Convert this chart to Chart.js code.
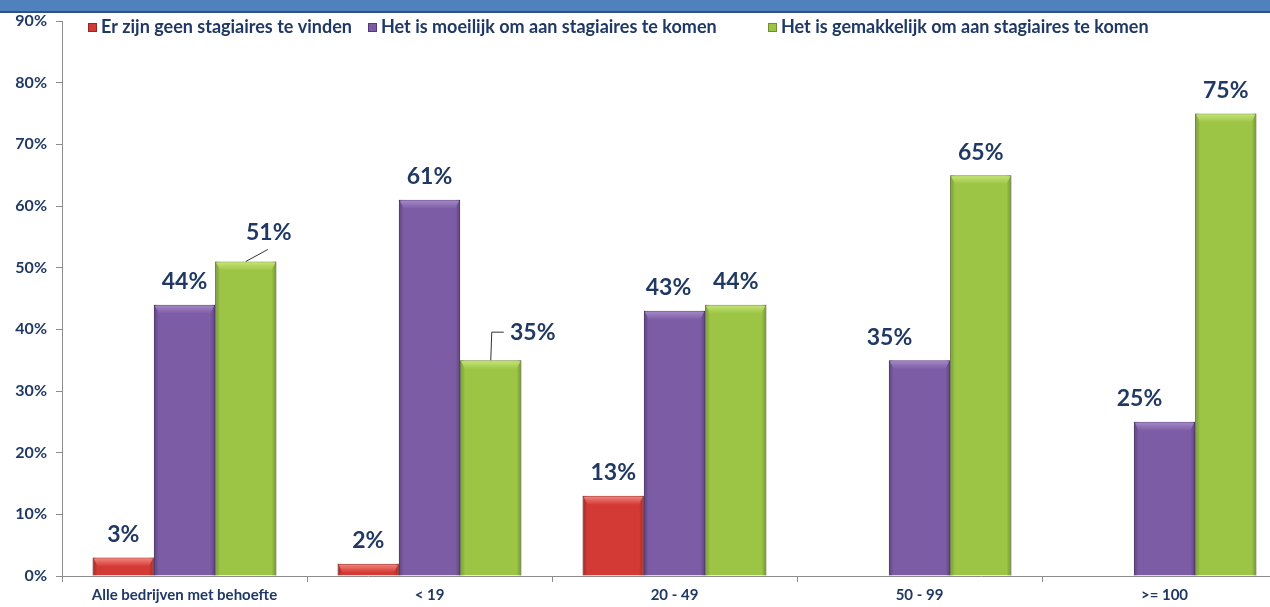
<!DOCTYPE html>
<html>
<head>
<meta charset="utf-8">
<script src="https://cdn.jsdelivr.net/npm/chart.js@4.4.1/dist/chart.umd.min.js"></script>
<style>
  html, body { margin: 0; padding: 0; background: #fff; overflow: hidden; }
  #band { position: absolute; left: 0; top: 0; width: 1270px; height: 11px; background: #4f81bd; border-bottom: 2px solid #2f5283; z-index: 2; }
  #wrap { position: absolute; left: 0; top: 0; width: 1290px; height: 607px; }
</style>
</head>
<body>
<div id="band"></div>
<div id="wrap"><canvas id="grafico"></canvas></div>
<script>
// categorieen en waarden (percentages)
const categorieen = ["Alle bedrijven met behoefte", "< 19", "20 - 49", "50 - 99", ">= 100"];
const geenStagiaires = [3, 2, 13, null, null];
const moeilijk = [44, 61, 43, 35, 25];
const gemakkelijk = [51, 35, 44, 65, 75];
const reeksNamen = [
	"Er zijn geen stagiaires te vinden",
	"Het is moeilijk om aan stagiaires te komen",
	"Het is gemakkelijk om aan stagiaires te komen"
];
const yTicks = [0, 10, 20, 30, 40, 50, 60, 70, 80, 90];

const navy = "#1f3864";
const fam = "Lato, 'Open Sans', sans-serif";

// kleuren per reeks
const vulling = ["#d43a35", "#7d5ca6", "#9cc546"];
const rand = ["#962724", "#55397a", "#6e8f30"];
const licht = ["#f48a82", "#a58bc8", "#c8e67a"];

// startpositie van elk legenda-item
const legendaX = [88, 368, 768];

// label verschuivingen (dataset-index)
const labelShift = {
	"2-0": { dx: 23, dy: -6, leader: "diag" },
	"2-1": { dx: 42, dy: -5, leader: "hook" },
	"1-2": { dx: -6, dy: 0 },
	"1-3": { dx: -30, dy: 0 },
	"1-4": { dx: -25, dy: 0 }
};

// bevel effect op de balken
const bevelPlugin = {
	id: "bevel",
	afterDatasetsDraw(chart) {
		const ctx = chart.ctx;
		chart.data.datasets.forEach((ds, di) => {
			const meta = chart.getDatasetMeta(di);
			meta.data.forEach((bar, i) => {
				if (ds.data[i] == null) return;
				const w = bar.width;
				const l = bar.x - w / 2;
				const top = bar.y;
				const h = bar.base - bar.y;
				ctx.save();
				// zijkanten donkerder
				let g = ctx.createLinearGradient(l, 0, l + w, 0);
				g.addColorStop(0, "rgba(0,0,0,0.25)");
				g.addColorStop(0.08, "rgba(0,0,0,0)");
				g.addColorStop(0.92, "rgba(0,0,0,0)");
				g.addColorStop(1, "rgba(0,0,0,0.25)");
				ctx.fillStyle = g;
				ctx.fillRect(l, top, w, h);
				// bovenkant licht
				const bh = Math.min(9, h);
				g = ctx.createLinearGradient(0, top, 0, top + bh);
				g.addColorStop(0, licht[di]);
				g.addColorStop(1, vulling[di]);
				ctx.fillStyle = g;
				ctx.beginPath();
				ctx.moveTo(l + 1, top + 1);
				ctx.lineTo(l + w - 1, top + 1);
				ctx.lineTo(l + w - 5, top + bh);
				ctx.lineTo(l + 5, top + bh);
				ctx.closePath();
				ctx.fill();
				ctx.restore();
			});
		});
	}
};

// waardelabels boven de balken
const labelPlugin = {
	id: "waardes",
	afterDatasetsDraw(chart) {
		const ctx = chart.ctx;
		ctx.save();
		ctx.font = "bold 23px " + fam;
		ctx.fillStyle = navy;
		ctx.textAlign = "center";
		ctx.textBaseline = "middle";
		chart.data.datasets.forEach((ds, di) => {
			const meta = chart.getDatasetMeta(di);
			meta.data.forEach((bar, i) => {
				const v = ds.data[i];
				if (v == null) return;
				const s = labelShift[di + "-" + i] || { dx: 0, dy: 0 };
				const lx = bar.x + s.dx;
				const ly = bar.y - 23 + s.dy;
				ctx.fillText(v + "%", lx, ly);
				if (s.leader) {
					ctx.strokeStyle = "#333";
					ctx.lineWidth = 1;
					ctx.beginPath();
					if (s.leader === "diag") {
						ctx.moveTo(bar.x, bar.y);
						ctx.lineTo(bar.x + 22, bar.y - 12);
					} else {
						ctx.moveTo(bar.x, bar.y);
						ctx.lineTo(bar.x + 1, ly);
						ctx.lineTo(bar.x + 13, ly);
					}
					ctx.stroke();
				}
			});
		});
		ctx.restore();
	}
};

// legenda bovenaan in het grafiekvlak
const legendaPlugin = {
	id: "legenda",
	afterDraw(chart) {
		const ctx = chart.ctx;
		ctx.save();
		ctx.font = "bold 18px " + fam;
		ctx.textBaseline = "middle";
		const y = 27;
		chart.data.datasets.forEach((ds, di) => {
			const x = legendaX[di];
			ctx.fillStyle = vulling[di];
			ctx.fillRect(x, y - 4, 9, 9);
			ctx.strokeStyle = rand[di];
			ctx.strokeRect(x + 0.5, y - 3.5, 8, 8);
			ctx.fillStyle = navy;
			ctx.fillText(ds.label, x + 13, y);
		});
		ctx.restore();
	}
};

const ctx = document.getElementById("grafico").getContext("2d");
const grafiek = new Chart(ctx, {
	type: "bar",
	data: {
		labels: categorieen,
		datasets: [
			{ label: reeksNamen[0], data: geenStagiaires, backgroundColor: vulling[0], borderColor: rand[0], borderWidth: 1 },
			{ label: reeksNamen[1], data: moeilijk, backgroundColor: vulling[1], borderColor: rand[1], borderWidth: 1 },
			{ label: reeksNamen[2], data: gemakkelijk, backgroundColor: vulling[2], borderColor: rand[2], borderWidth: 1 }
		]
	},
	options: {
		responsive: true,
		maintainAspectRatio: false,
		animation: false,
		layout: { padding: { top: 21, right: 3, left: 0, bottom: 0 } },
		datasets: { bar: { categoryPercentage: 0.75, barPercentage: 1 } },
		plugins: {
			legend: { display: false },
			tooltip: { enabled: false }
		},
		scales: {
			x: {
				grid: { display: true, drawOnChartArea: false, offset: true, tickLength: 6, color: "#8c8c8c" },
				border: { color: "#8c8c8c" },
				ticks: { color: navy, font: { family: fam, weight: "bold", size: 15 }, padding: 4, maxRotation: 0 },
				afterFit: (s) => { s.height = 31; }
			},
			y: {
				min: 0,
				max: 90,
				afterBuildTicks: (s) => { s.ticks = yTicks.map((v) => ({ value: v })); },
				grid: { display: true, drawOnChartArea: false, tickLength: 6, color: "#8c8c8c" },
				border: { color: "#8c8c8c" },
				ticks: { color: navy, font: { family: fam, weight: "bold", size: 16 }, padding: 9, callback: (v) => v + "%" },
				afterFit: (s) => { s.width = 62; }
			}
		}
	},
	plugins: [bevelPlugin, labelPlugin, legendaPlugin]
});
</script>
</body>
</html>
